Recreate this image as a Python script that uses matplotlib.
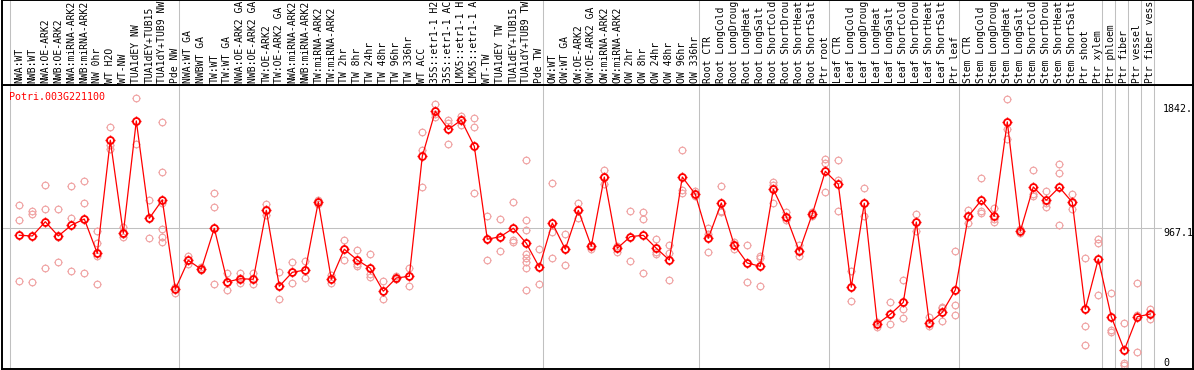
import numpy as np
import matplotlib
matplotlib.use('Agg')
import matplotlib.pyplot as plt
from matplotlib.path import Path

plt.rcParams['font.family'] = ['DejaVu Sans Mono']

gene = 'Potri.003G221100'

# sample names as the header shows them (the header only has room for ~14 characters)
samples = [
    'NWA:WT', 'NWB:WT', 'NWA:OE-ARK2', 'NWB:OE-ARK2', 'NWA:miRNA-ARK2', 'NWB:miRNA-ARK2',
    'NW 0hr', 'WT H2O', 'WT-NW', 'TUA1dEY NW', 'TUA1dEY+TUB15', 'TUA1dY+TUB9 NW', 'Pde NW',
    'NWA:WT GA', 'NWBWT GA', 'TW:WT', 'TW:WT GA', 'NWA:OE-ARK2 GA', 'NWB:OE-ARK2 GA',
    'TW:OE-ARK2', 'TW:OE-ARK2 GA', 'NWA:miRNA-ARK2', 'NWB:miRNA-ARK2', 'TW:miRNA-ARK2',
    'TW:miRNA-ARK2', 'TW 2hr', 'TW 8hr', 'TW 24hr', 'TW 48hr', 'TW 96hr', 'TW 336hr', 'WT ACC',
    '35S::etr1-1 H2', '35S::etr1-1 AC', 'LMX5::etr1-1 H', 'LMX5::etr1-1 A', 'WT-TW',
    'TUA1dEY TW', 'TUA1dEY+TUB15', 'TUA1dY+TUB9 TW', 'Pde TW',
    'OW:WT', 'OW:WT GA', 'OW:OE-ARK2', 'OW:OE-ARK2 GA', 'OW:miRNA-ARK2', 'OW:miRNA-ARK2',
    'OW 2hr', 'OW 8hr', 'OW 24hr', 'OW 48hr', 'OW 96hr', 'OW 336hr',
    'Root CTR', 'Root LongCold', 'Root LongDroug', 'Root LongHeat', 'Root LongSalt',
    'Root ShortCold', 'Root ShortDrou', 'Root ShortHeat', 'Root ShortSalt', 'Ptr root',
    'Leaf CTR', 'Leaf LongCold', 'Leaf LongDroug', 'Leaf LongHeat', 'Leaf LongSalt',
    'Leaf ShortCold', 'Leaf ShortDrou', 'Leaf ShortHeat', 'Leaf ShortSalt', 'Ptr leaf',
    'Stem CTR', 'Stem LongCold', 'Stem LongDroug', 'Stem LongHeat', 'Stem LongSalt',
    'Stem ShortCold', 'Stem ShortDrou', 'Stem ShortHeat', 'Stem ShortSalt', 'Ptr shoot',
    'Ptr xylem', 'Ptr phloem', 'Ptr fiber', 'Ptr vessel', 'Ptr fiber vess',
]

group_sizes = [13, 28, 12, 10, 10, 11, 1, 1, 1, 1]

means = [
    918, 913, 1013, 913, 988, 1032, 791, 1585, 932, 1721, 1037, 1166, 539,
    742, 679, 967, 590, 613, 609, 1093, 560, 658, 674, 1152, 609, 820, 744, 686, 525,
    618, 630, 1473, 1789, 1662, 1726, 1543, 890, 908, 967, 862, 693,
    1004, 820, 1093, 841, 1327, 827, 908, 918, 827, 744, 1327, 1206,
    897, 1145, 848, 723, 700, 1241, 1049, 806, 1067, 1367,
    1276, 553, 1143, 295, 363, 447, 1011, 304, 377, 534,
    1051, 1164, 1051, 1714, 946, 1257, 1164, 1255, 1150, 398, 751,
    346, 112, 346, 365,
]

reps = [
    [1129, 1023, 597], [1091, 1067, 590], [1269, 1103, 686], [1103, 728, 908],
    [1262, 1042, 665], [1299, 1143, 651], [948, 862, 773, 576], [1678, 1552, 1522],
    [976, 927, 908], [1880, 1721, 1557], [1166, 1037, 897], [1714, 1360, 1143, 962, 904, 869],
    [557, 511, 539],
    [775, 716, 742], [697, 674, 679], [1213, 1115, 574], [651, 532, 590], [651, 616, 581],
    [651, 609, 574], [1138, 1060, 1093], [658, 468, 560], [733, 585, 658], [737, 616, 674],
    [1166, 1152, 1138], [637, 581, 609], [885, 744, 820], [815, 702, 714], [787, 644, 625],
    [595, 468, 525], [632, 609, 618], [690, 564, 630], [1645, 1517, 1255], [1838, 1768, 1749],
    [1728, 1704, 1557], [1756, 1737, 1693], [1740, 1676, 1213], [1053, 744, 890],
    [1030, 806, 908], [1150, 885, 873], [1447, 1023, 957, 784, 761, 730, 686, 532],
    [820, 574, 693],
    [1287, 941, 761], [925, 707, 820], [1145, 1042, 1093], [848, 820, 841], [1374, 1276, 1327],
    [843, 803, 827], [1086, 735, 908], [1082, 1030, 651], [890, 803, 784], [848, 791, 602],
    [1517, 1236, 1213], [1229, 1194, 1206],
    [969, 925, 801], [1264, 1082, 1089], [871, 820, 848], [848, 590, 723], [773, 761, 560],
    [1292, 1273, 1147], [1082, 1025, 1049], [848, 773, 806], [1082, 1053, 1067],
    [1456, 1424, 1222],
    [1447, 1306, 1086], [667, 454, 553], [1248, 1053, 1143], [309, 276, 295], [449, 295, 363],
    [602, 398, 335], [1067, 948, 1011], [346, 281, 304], [412, 314, 405], [806, 426, 356],
    [1096, 1006, 1051], [1318, 1089, 1077], [1112, 1030, 1011], [1873, 1662, 1592],
    [964, 932, 946], [1374, 1194, 1206], [1227, 1119, 1146], [1417, 1358, 988],
    [1206, 1101, 1143], [756, 281, 147], [894, 862, 497],
    [515, 251, 239], [304, 23, 5], [581, 98, 359], [402, 328, 365],
]

tick_values = [0, 967.1, 1842]
tick_labels = ['0', '967.1', '1842.']

# layout in pixels
W, H = 1194, 370
fig = plt.figure(figsize=(W / 100, H / 100), dpi=100)


def box(l, t, r, b):
    return [l / W, (H - b) / H, (r - l) / W, (b - t) / H]


ax = fig.add_axes(box(2, 85, 1193, 369))
hx = fig.add_axes(box(2, 0, 1193, 85))

x = np.arange(len(samples))
for a in (ax, hx):
    a.set_xlim(-1.331, 90.285)
    a.set_xticks([])
    a.set_yticks([])
    for s in a.spines.values():
        s.set_linewidth(1.4)
        s.set_color('black')
ax.set_ylim(-21, 1973)
hx.set_ylim(0, 1)

# group separators
bounds = np.concatenate([[0], np.cumsum(group_sizes)])
for b in bounds:
    for a in (ax, hx):
        a.axvline(b - 0.715, color='#c0c0c0', lw=0.75, zorder=1)

ax.axhline(967.1, xmin=0, xmax=0.973, color='#c0c0c0', lw=0.75, zorder=1)

# small nubs around circles
nub = Path([(0, 0.75), (0, 1.0), (0, -0.75), (0, -1.0),
            (0.75, 0), (1.0, 0), (-0.75, 0), (-1.0, 0)],
           [Path.MOVETO, Path.LINETO] * 4)

rx = [i for i, r in enumerate(reps) for _ in r]
ry = [v for r in reps for v in r]
rep_col = '#f0a0a0'
ax.plot(rx, ry, ls='none', marker='o', ms=4.8, mfc='none', mec=rep_col, mew=0.8, zorder=2)
ax.plot(rx, ry, ls='none', marker=nub, ms=6.2, mec=rep_col, mew=0.8, zorder=2)

ax.plot(x, means, color='red', lw=0.9, zorder=3)
ax.plot(x, means, ls='none', marker='o', ms=5.0, mfc='none', mec='red', mew=1.3, zorder=4)
ax.plot(x, means, ls='none', marker=nub, ms=6.6, mec='red', mew=1.0, zorder=4)

ax.text(0.0059, 0.958, gene, transform=ax.transAxes, color='red', fontsize=7.2,
        ha='left', va='center')

# value labels on the right
for v, lab in zip(tick_values, tick_labels):
    va = 'baseline' if v == 0 else 'top'
    ax.text(0.9748, v, lab, transform=ax.get_yaxis_transform(), fontsize=7.2,
            ha='left', va=va, color='black')

# sample names in the header
for i, name in enumerate(samples):
    hx.text(i, 0.0235, name, rotation=90, ha='center', va='bottom', fontsize=7.0,
            color='black')

fig.savefig('out.png', dpi=100)
